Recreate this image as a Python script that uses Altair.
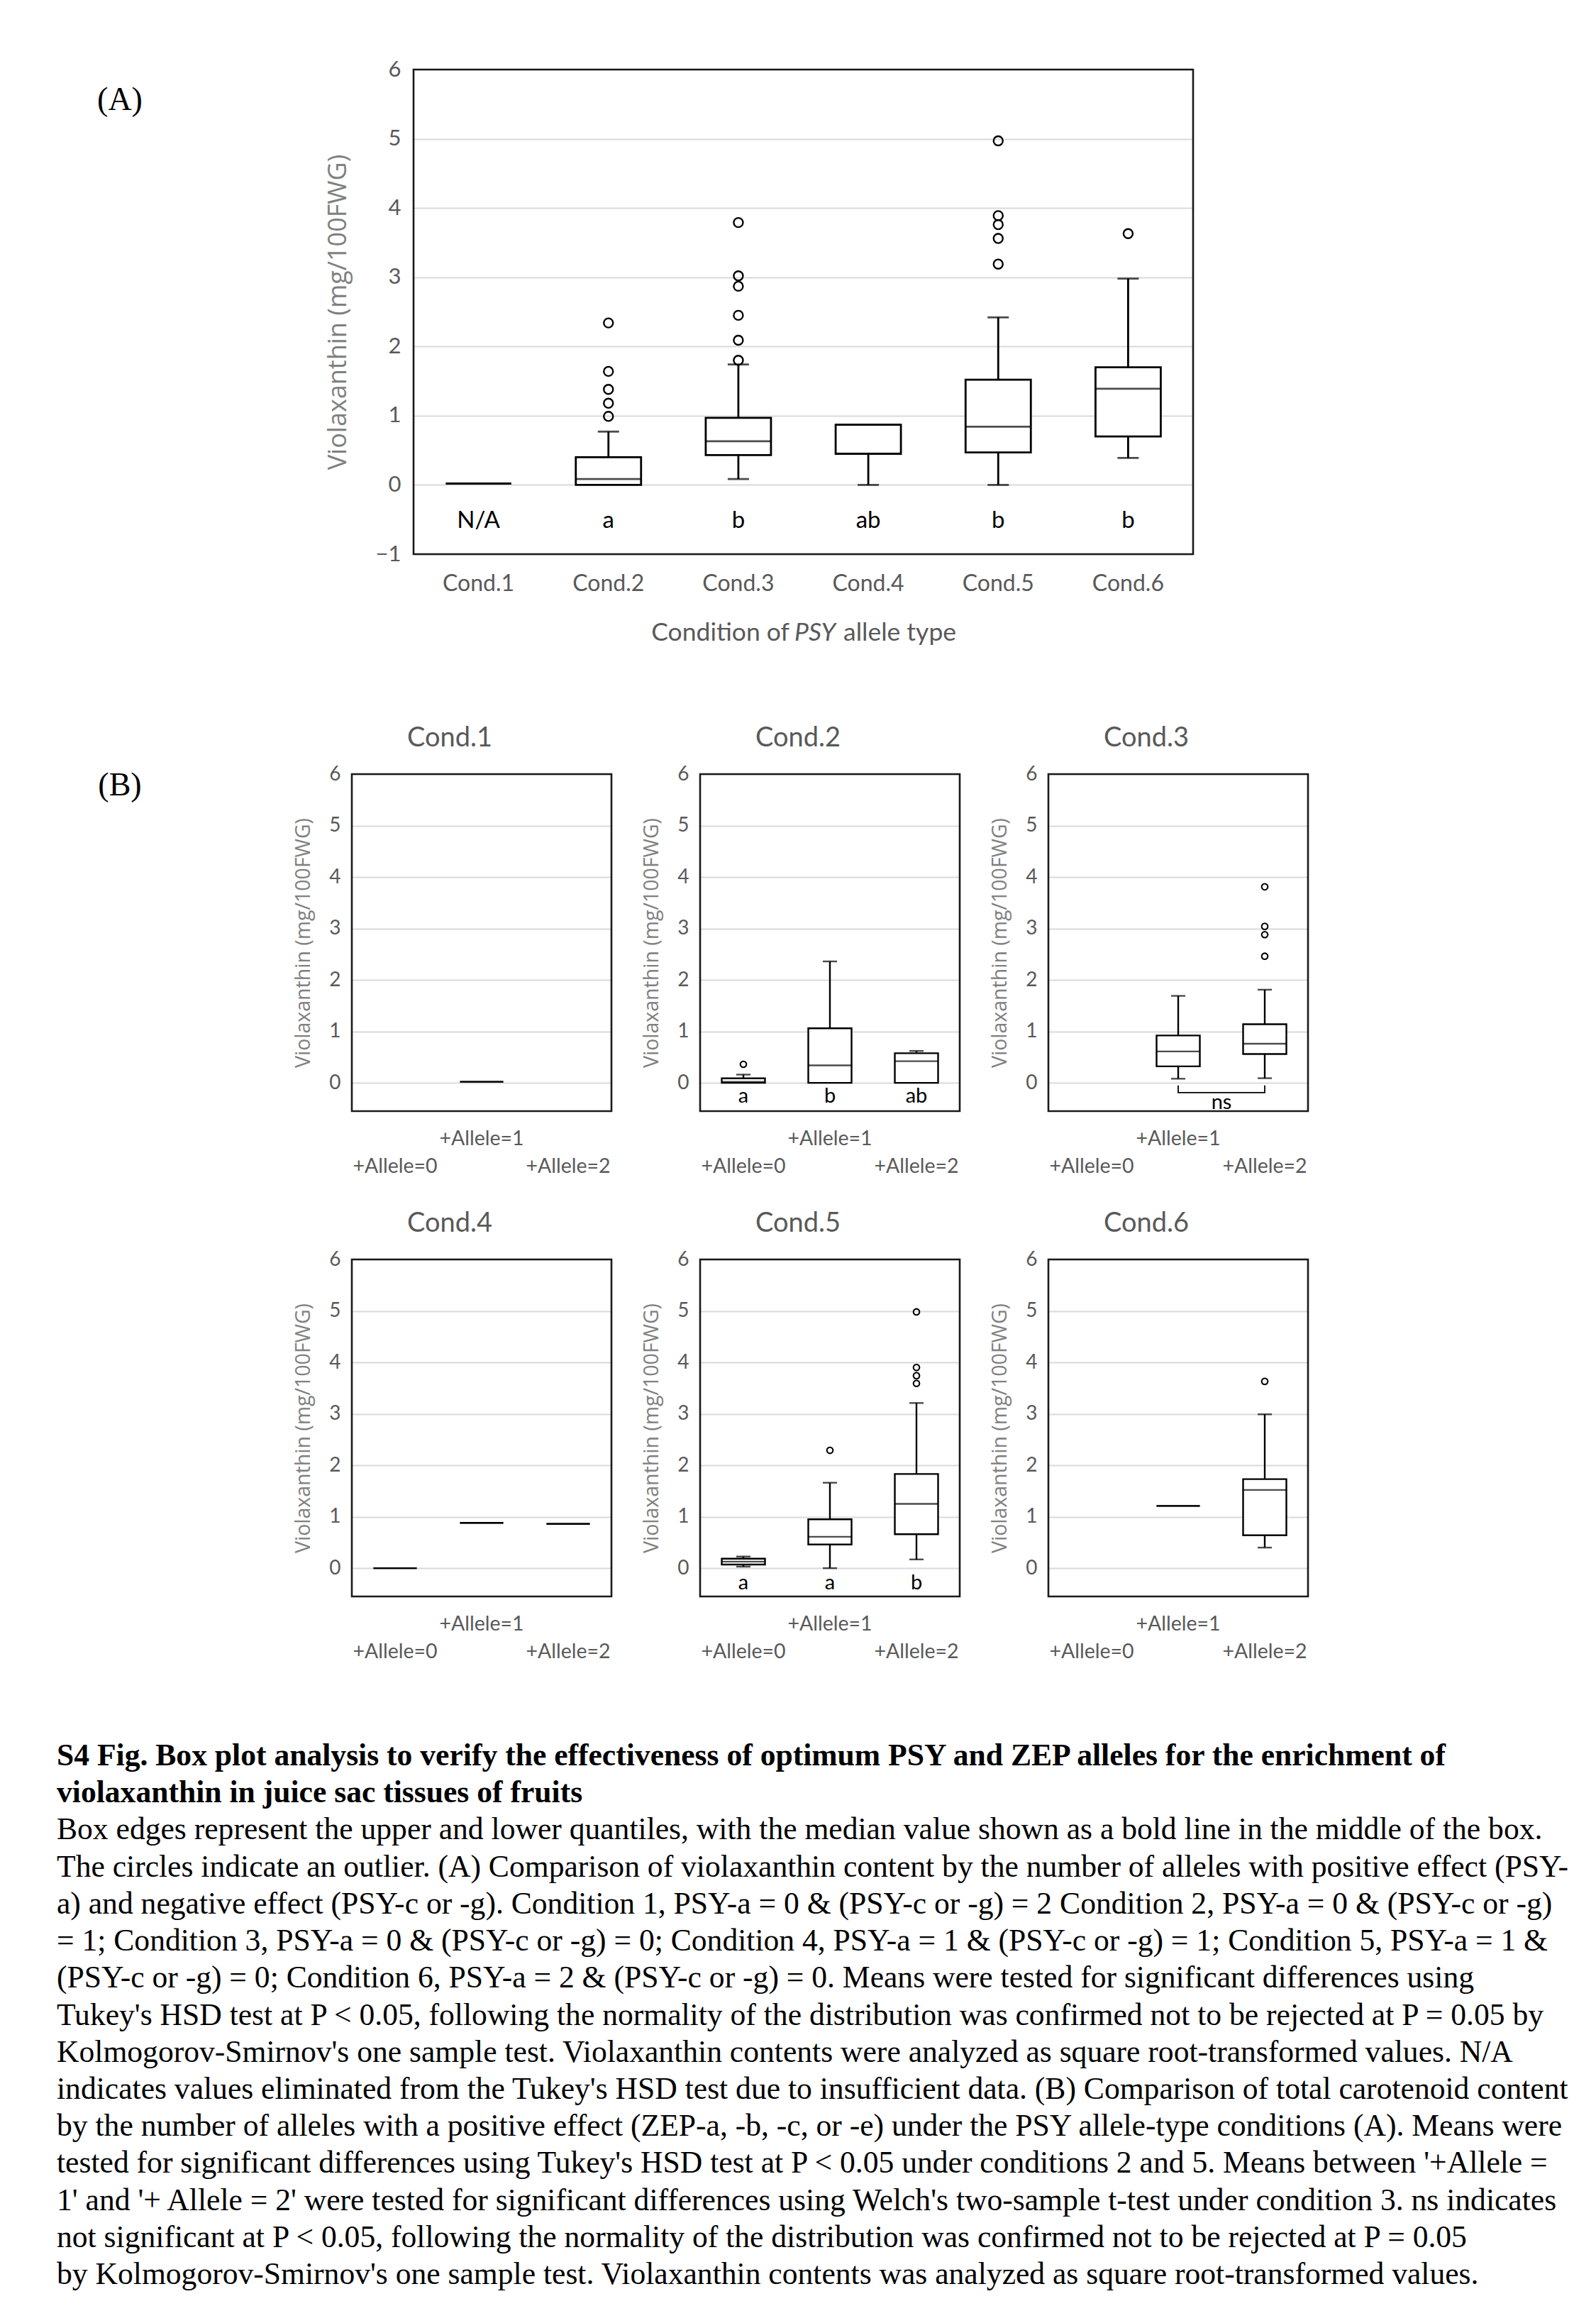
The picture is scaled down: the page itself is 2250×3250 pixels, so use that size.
import altair as alt
import pandas as pd

LABEL_FONT = "Lato"
TITLE_FONT = "Open Sans"
SERIF = "Liberation Serif"
GRAY = "#595959"
TGRAY = "#808080"
YTITLE = "Violaxanthin (mg/100FWG)"

# ---------------- Panel A data ----------------
a_conditions = ["Cond.1", "Cond.2", "Cond.3", "Cond.4", "Cond.5", "Cond.6"]
a_lo = [0.02, 0.00, 0.085, 0.00, 0.00, 0.39]
a_q1 = [0.02, 0.00, 0.43, 0.45, 0.47, 0.70]
a_med = [0.02, 0.085, 0.63, 0.87, 0.84, 1.39]
a_q3 = [0.02, 0.40, 0.97, 0.87, 1.52, 1.70]
a_hi = [0.02, 0.77, 1.74, 0.87, 2.42, 2.98]
a_letters = ["N/A", "a", "b", "ab", "b", "b"]
a_out_cond = ["Cond.2"] * 5 + ["Cond.3"] * 6 + ["Cond.5"] * 5 + ["Cond.6"]
a_out_vals = [0.99, 1.18, 1.38, 1.64, 2.34,
              1.80, 2.09, 2.45, 2.87, 3.02, 3.79,
              3.19, 3.56, 3.76, 3.89, 4.97,
              3.63]
a_yticks = [-1, 0, 1, 2, 3, 4, 5, 6]

# ---------------- Panel B data ----------------
alleles = ["+Allele=0", "+Allele=1", "+Allele=2"]
b_yticks = [0, 1, 2, 3, 4, 5, 6]

c1_alleles = ["+Allele=1"]
c1_lo, c1_q1, c1_med, c1_q3, c1_hi = [0.02], [0.02], [0.02], [0.02], [0.02]

c2_alleles = ["+Allele=0", "+Allele=1", "+Allele=2"]
c2_lo = [0.00, 0.00, 0.00]
c2_q1 = [0.00, 0.00, 0.00]
c2_med = [0.02, 0.34, 0.42]
c2_q3 = [0.087, 1.06, 0.575]
c2_hi = [0.16, 2.36, 0.62]
c2_out_allele = ["+Allele=0"]
c2_out_vals = [0.36]
c2_letters = ["a", "b", "ab"]

c3_alleles = ["+Allele=1", "+Allele=2"]
c3_lo = [0.08, 0.09]
c3_q1 = [0.32, 0.56]
c3_med = [0.61, 0.76]
c3_q3 = [0.92, 1.14]
c3_hi = [1.69, 1.81]
c3_out_allele = ["+Allele=2"] * 4
c3_out_vals = [2.46, 2.88, 3.04, 3.81]

c4_alleles = ["+Allele=0", "+Allele=1", "+Allele=2"]
c4_lo = [0.0, 0.88, 0.86]
c4_q1 = [0.0, 0.88, 0.86]
c4_med = [0.0, 0.88, 0.86]
c4_q3 = [0.0, 0.88, 0.86]
c4_hi = [0.0, 0.88, 0.86]

c5_alleles = ["+Allele=0", "+Allele=1", "+Allele=2"]
c5_lo = [0.03, 0.00, 0.17]
c5_q1 = [0.07, 0.46, 0.66]
c5_med = [0.127, 0.61, 1.25]
c5_q3 = [0.185, 0.95, 1.83]
c5_hi = [0.226, 1.66, 3.21]
c5_out_allele = ["+Allele=1"] + ["+Allele=2"] * 4
c5_out_vals = [2.29, 3.59, 3.74, 3.90, 4.98]
c5_letters = ["a", "a", "b"]

c6_alleles = ["+Allele=1", "+Allele=2"]
c6_lo = [1.21, 0.40]
c6_q1 = [1.21, 0.64]
c6_med = [1.21, 1.52]
c6_q3 = [1.21, 1.73]
c6_hi = [1.21, 2.99]
c6_out_allele = ["+Allele=2"]
c6_out_vals = [3.63]

# ---------------- Caption ----------------
caption_bold = [
    "S4 Fig. Box plot analysis to verify the effectiveness of optimum PSY and ZEP alleles for the enrichment of",
    "violaxanthin in juice sac tissues of fruits",
]
caption_body = [
    "Box edges represent the upper and lower quantiles, with the median value shown as a bold line in the middle of the box.",
    "The circles indicate an outlier. (A) Comparison of violaxanthin content by the number of alleles with positive effect (PSY-",
    "a) and negative effect (PSY-c or -g). Condition 1, PSY-a = 0 & (PSY-c or -g) = 2 Condition 2, PSY-a = 0 & (PSY-c or -g)",
    "= 1; Condition 3, PSY-a = 0 & (PSY-c or -g) = 0; Condition 4, PSY-a = 1 & (PSY-c or -g) = 1; Condition 5, PSY-a = 1 &",
    "(PSY-c or -g) = 0; Condition 6, PSY-a = 2 & (PSY-c or -g) = 0. Means were tested for significant differences using",
    "Tukey's HSD test at P < 0.05, following the normality of the distribution was confirmed not to be rejected at P = 0.05 by",
    "Kolmogorov-Smirnov's one sample test. Violaxanthin contents were analyzed as square root-transformed values. N/A",
    "indicates values eliminated from the Tukey's HSD test due to insufficient data. (B) Comparison of total carotenoid content",
    "by the number of alleles with a positive effect (ZEP-a, -b, -c, or -e) under the PSY allele-type conditions (A). Means were",
    "tested for significant differences using Tukey's HSD test at P < 0.05 under conditions 2 and 5. Means between '+Allele =",
    "1' and '+ Allele = 2' were tested for significant differences using Welch's two-sample t-test under condition 3. ns indicates",
    "not significant at P < 0.05, following the normality of the distribution was confirmed not to be rejected at P = 0.05",
    "by Kolmogorov-Smirnov's one sample test. Violaxanthin contents was analyzed as square root-transformed values.",
]


def box_chart(cats, cat_domain, lo, q1, med, q3, hi, out_cats, out_vals,
              letters, letter_y, W, H, ydomain, box_w, cap_w, sw,
              pt_size, letter_size, xaxis, yaxis):
    stats = pd.DataFrame({"c": cats, "lo": lo, "q1": q1, "med": med, "q3": q3, "hi": hi})
    caps_c, caps_v = [], []
    for c, l, a, b, h in zip(cats, lo, q1, q3, hi):
        if l < a:
            caps_c.append(c)
            caps_v.append(l)
        if h > b:
            caps_c.append(c)
            caps_v.append(h)
    caps = pd.DataFrame({"c": caps_c, "v": caps_v})
    X = alt.X("c:N", scale=alt.Scale(domain=cat_domain, paddingInner=0, paddingOuter=0), axis=xaxis)
    scale_y = alt.Scale(domain=ydomain, nice=False, zero=False)

    def Y(f):
        return alt.Y(f"{f}:Q", scale=scale_y, axis=yaxis)

    base = alt.Chart(stats)
    layers = [
        base.mark_rule(color="black", strokeWidth=sw).encode(x=X, y=Y("lo"), y2="hi"),
        base.mark_bar(size=box_w, fill="white", stroke="black", strokeWidth=sw).encode(x=X, y=Y("q1"), y2="q3"),
        base.mark_tick(orient="horizontal", size=box_w, thickness=sw, color="black").encode(x=X, y=Y("med")),
    ]
    if len(caps):
        layers.append(alt.Chart(caps).mark_tick(orient="horizontal", size=cap_w, thickness=sw, color="black")
                      .encode(x=X, y=Y("v")))
    if out_vals:
        outs = pd.DataFrame({"c": out_cats, "v": out_vals})
        layers.append(alt.Chart(outs).mark_point(shape="circle", filled=False, color="black",
                                                 strokeWidth=sw * 0.85, size=pt_size, opacity=1)
                      .encode(x=X, y=Y("v")))
    if letters:
        lt = pd.DataFrame({"c": cat_domain, "t": letters, "y": [letter_y] * len(letters)})
        layers.append(alt.Chart(lt).mark_text(font=LABEL_FONT, fontSize=letter_size, color="black")
                      .encode(x=X, y=Y("y"), text="t:N"))
    frame = alt.Chart(pd.DataFrame({"k": [0]})).mark_rect(filled=False, stroke="#1a1a1a", strokeWidth=2.6).encode(
        x=alt.value(0), x2=alt.value(W), y=alt.value(0), y2=alt.value(H))
    return layers, frame, X, Y


def extent_rule(top, bottom):
    # invisible (white) guide that fixes the vertical extent of a row
    return alt.Chart(pd.DataFrame({"k": [0]})).mark_rule(color="white", strokeWidth=1).encode(
        x=alt.value(0.5), y=alt.value(top), y2=alt.value(bottom))


# ---------------- Panel A chart ----------------
WA, HA = 1099, 683
a_yaxis = alt.Axis(values=a_yticks, title=YTITLE, titleFont=TITLE_FONT, titleFontSize=36,
                   titleFontWeight="normal", titleColor=TGRAY, titlePadding=34,
                   labelFont=LABEL_FONT, labelFontSize=31, labelColor=GRAY, labelPadding=18,
                   domain=False, ticks=False, grid=True, gridColor="#d9d9d9", gridWidth=2)
a_xaxis = alt.Axis(title=None, labelFont=LABEL_FONT, labelFontSize=32, labelColor=GRAY,
                   labelPadding=26, labelAngle=0, domain=False, ticks=False, grid=False)
layersA, frameA, XA, YA = box_chart(a_conditions, a_conditions, a_lo, a_q1, a_med, a_q3, a_hi,
                                    a_out_cond, a_out_vals, a_letters, -0.52, WA, HA, [-1, 6],
                                    92, 30, 2.8, 170, 33, a_xaxis, a_yaxis)
tdf = pd.DataFrame({"t": ["Condition of", "PSY", "allele type"]})
xt1 = alt.Chart(tdf).transform_filter("datum.t == 'Condition of'").mark_text(
    font=LABEL_FONT, fontSize=35.5, color=GRAY, align="right").encode(
    text="t:N", x=alt.value(530), y=alt.value(794))
xt2 = alt.Chart(tdf).transform_filter("datum.t == 'PSY'").mark_text(
    font=LABEL_FONT, fontSize=35.5, color=GRAY, align="left", fontStyle="italic").encode(
    text="t:N", x=alt.value(537), y=alt.value(794))
xt3 = alt.Chart(tdf).transform_filter("datum.t == 'allele type'").mark_text(
    font=LABEL_FONT, fontSize=35.5, color=GRAY, align="left").encode(
    text="t:N", x=alt.value(606), y=alt.value(794))
panelA = alt.layer(*layersA, frameA, xt1, xt2, xt3).properties(width=WA, height=HA)


# ---------------- Panel B charts ----------------
WB, HB = 366, 475
b_ydomain = [-0.55, 6]


def b_panel(name, cats, lo, q1, med, q3, hi, out_cats=None, out_vals=None, letters=None, letter_y=-0.27, extra=()):
    yaxis = alt.Axis(values=b_yticks, title=YTITLE, titleFont=TITLE_FONT, titleFontSize=28.5,
                     titleFontWeight="normal", titleColor=TGRAY, titlePadding=21,
                     labelFont=LABEL_FONT, labelFontSize=28, labelColor=GRAY, labelPadding=16,
                     domain=False, ticks=False, grid=True, gridColor="#d9d9d9", gridWidth=2)
    layers, frame, X, Y = box_chart(cats, alleles, lo, q1, med, q3, hi, out_cats or [], out_vals or [],
                                    letters or [], letter_y, WB, HB, b_ydomain, 61, 20, 2.4,
                                    75, 29, None, yaxis)
    ttl = alt.Chart(pd.DataFrame({"t": [name]})).mark_text(
        font=LABEL_FONT, fontSize=38, color=GRAY).encode(text="t:N", x=alt.value(138), y=alt.value(-50))
    labs = pd.DataFrame({"c": alleles})
    lab1 = alt.Chart(labs).transform_filter("datum.c == '+Allele=1'").mark_text(
        font=LABEL_FONT, fontSize=28.5, color=GRAY).encode(x=X, text="c:N", y=alt.value(HB + 39))
    lab02 = alt.Chart(labs).transform_filter("datum.c != '+Allele=1'").mark_text(
        font=LABEL_FONT, fontSize=28.5, color=GRAY).encode(x=X, text="c:N", y=alt.value(HB + 78))
    extras = [e(X, Y) for e in extra]
    return alt.layer(*layers, *extras, frame, ttl, lab1, lab02).properties(width=WB, height=HB)


bracket_allele = ["+Allele=1", "+Allele=1", "+Allele=2", "+Allele=2"]
bracket_y = [-0.05, -0.19, -0.19, -0.05]


def bracket(X, Y):
    df = pd.DataFrame({"c": bracket_allele, "v": bracket_y, "o": [0, 1, 2, 3]})
    return alt.Chart(df).mark_line(color="black", strokeWidth=1.8).encode(x=X, y=Y("v"), order="o:Q")


def ns_text(X, Y):
    df = pd.DataFrame({"t": ["ns"], "v": [-0.39]})
    return alt.Chart(df).mark_text(font=LABEL_FONT, fontSize=29, color="black").encode(
        x=alt.value(244), y=Y("v"), text="t:N")


p1 = b_panel("Cond.1", c1_alleles, c1_lo, c1_q1, c1_med, c1_q3, c1_hi)
p2 = b_panel("Cond.2", c2_alleles, c2_lo, c2_q1, c2_med, c2_q3, c2_hi, c2_out_allele, c2_out_vals,
             c2_letters, -0.26)
p3 = b_panel("Cond.3", c3_alleles, c3_lo, c3_q1, c3_med, c3_q3, c3_hi, c3_out_allele, c3_out_vals,
             extra=(bracket, ns_text))
p4 = b_panel("Cond.4", c4_alleles, c4_lo, c4_q1, c4_med, c4_q3, c4_hi)
p5 = b_panel("Cond.5", c5_alleles, c5_lo, c5_q1, c5_med, c5_q3, c5_hi, c5_out_allele, c5_out_vals,
             c5_letters, -0.29)
p6 = b_panel("Cond.6", c6_alleles, c6_lo, c6_q1, c6_med, c6_q3, c6_hi, c6_out_allele, c6_out_vals)


def label_chart(txt, w, h, y, top, bottom):
    t = alt.Chart(pd.DataFrame({"t": [txt]})).mark_text(
        font=SERIF, fontSize=46, color="black").encode(
        text="t:N", x=alt.value(168), y=alt.value(y))
    return alt.layer(extent_rule(top, bottom), t).properties(width=w, height=h)


# rows: A origin y=97 (bounds 0..1000), B1 origin 1088 (1000..1680),
# B2 origin 1770 (1680..2400), caption origin 2468 (2400..)
labA = label_chart("(A)", 570, HA, 43, -97, 903)
labB = label_chart("(B)", 370, HB, 16, -88, 592)
labC = label_chart("", 370, HB, 0, -90, 630)

rowA = alt.hconcat(labA, panelA, spacing=12, bounds="flush")
row1 = alt.hconcat(labB, p1, p2, p3, spacing=125, bounds="flush")
row2 = alt.hconcat(labC, p4, p5, p6, spacing=125, bounds="flush")

CAP_SIZE = 43.6
cap_lines = caption_bold + caption_body
cap_df = pd.DataFrame({"i": list(range(len(cap_lines))), "t": cap_lines})
cap_y = alt.Y("i:Q", scale=alt.Scale(domain=[0, len(cap_lines) - 1], reverse=True, nice=False, zero=False), axis=None)
cap_b = alt.Chart(cap_df).transform_filter("datum.i < 2").mark_text(
    font=SERIF, fontSize=CAP_SIZE, fontWeight="bold", color="black", align="left").encode(
    x=alt.value(79), y=cap_y, text="t:N")
cap_n = alt.Chart(cap_df).transform_filter("datum.i >= 2").mark_text(
    font=SERIF, fontSize=CAP_SIZE, color="black", align="left").encode(
    x=alt.value(79), y=cap_y, text="t:N")
caption = alt.layer(extent_rule(-68, 770), cap_b, cap_n).properties(width=2150, height=731)

chart = alt.vconcat(rowA, row1, row2, caption, spacing=0).properties(
    padding={"left": 0, "top": 0, "right": 0, "bottom": 0},
    background="white",
).configure_view(stroke="transparent")

chart.save("out.html", embed_options={"renderer": "svg", "actions": False})
